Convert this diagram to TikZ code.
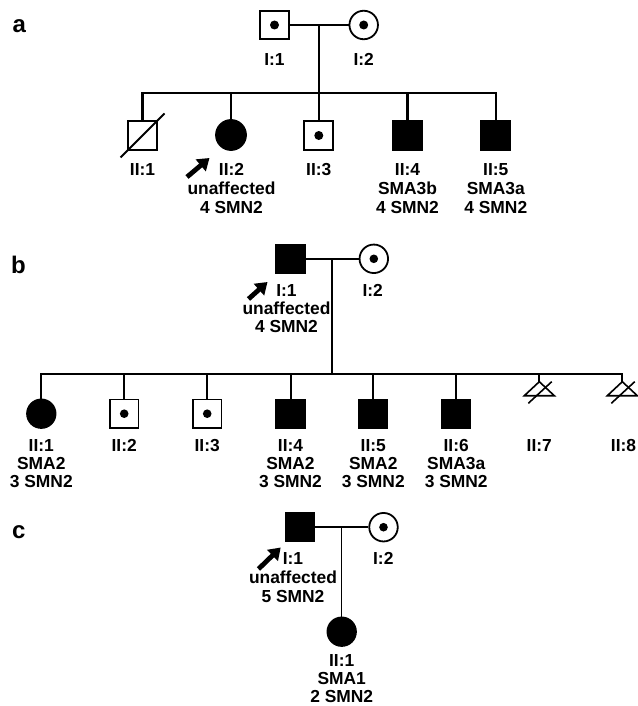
\documentclass[tikz,border=0pt]{standalone}
\usepackage{fontspec}
\setmainfont{Liberation Sans}
\usetikzlibrary{arrows.meta,calc}
\tikzset{
  sq/.style={draw, line width=1.8pt, rectangle, minimum size=28.5pt, inner sep=0pt, fill=white},
  sqf/.style={sq, fill=black},
  ci/.style={draw, line width=1.8pt, circle, minimum size=28.5pt, inner sep=0pt, fill=white},
  cif/.style={ci, fill=black},
  lbl/.style={anchor=north, inner sep=0pt, align=center, font=\bfseries\fontsize{17.4}{#1}\selectfont},
  lbl/.default=18.5,
  plet/.style={anchor=base west, inner sep=0pt, font=\bfseries\fontsize{24}{24}\selectfont},
  conn/.style={line width=#1},
  proband/.style={line width=4.8pt, -{Triangle[length=11.5pt,width=15pt]}},
}
\begin{document}
\begin{tikzpicture}[x=1pt,y=-1pt]
\useasboundingbox (0,0) rectangle (637,706);

% ---------------- panel a ----------------
\node[plet] (pa) at (12.5,33) {a};
\node[sq] (a11) at (274.5,25) {};
\fill (a11.center) circle (4.5);
\node[ci] (a12) at (363.7,25) {};
\fill (a12.center) circle (4.5);
\coordinate (aM) at (319,25);
\coordinate (aJ) at (319,92.7);
\node[sq, minimum size=29pt] (a21) at (142.5,135.5) {};
\node[cif, minimum size=30pt] (a22) at (231,135) {};
\node[sq, minimum size=29pt] (a23) at (318.8,135.5) {};
\fill (a23.center) circle (4.5);
\node[sqf, minimum size=29pt] (a24) at (407.5,135.5) {};
\node[sqf, minimum size=29pt] (a25) at (495.8,135.5) {};
\draw[line width=1.8pt] ($(a21.center)+(-22,22)$) -- ($(a21.center)+(22,-22)$);
\draw[conn=2.2pt] (a11) -- (a12);
\draw[conn=2.8pt] (aM) -- (aJ);
\draw[conn=2.2pt] (a21.north) -- (a21.north |- aJ) -- (a25.north |- aJ) -- (a25.north);
\foreach \n in {a22,a23,a24} \draw[conn=2.2pt] (\n.north) -- (\n.north |- aJ);
\node[lbl] (la11) at (274.5,53) {I:1};
\node[lbl] (la12) at (363.7,53) {I:2};
\node[lbl=19] (la21) at (142.5,163.3) {II:1};
\node[lbl=19] (la22) at (231.5,163.3) {II:2\\unaffected\\4 SMN2};
\node[lbl=19] (la23) at (318.8,163.3) {II:3};
\node[lbl=19] (la24) at (407.5,163.3) {II:4\\SMA3b\\4 SMN2};
\node[lbl=19] (la25) at (495.8,163.3) {II:5\\SMA3a\\4 SMN2};
\coordinate (aAt) at (187,177);
\coordinate (aAh) at (209.5,158);
\draw[proband] (aAt) -- (aAh);

% ---------------- panel b ----------------
\node[plet] (pb) at (11,273.3) {b};
\node[sqf] (b11) at (290.5,258.8) {};
\node[ci] (b12) at (373.8,258.8) {};
\fill (b12.center) circle (4.3);
\coordinate (bM) at (332,258.8);
\coordinate (bJ) at (332,373.5);
\node[cif] (b21) at (41.3,413.7) {};
\node[sq] (b22) at (124.2,413.7) {};
\fill (b22.center) circle (4.3);
\node[sq] (b23) at (207.2,413.7) {};
\fill (b23.center) circle (4.3);
\node[sqf] (b24) at (290.5,413.7) {};
\node[sqf] (b25) at (373.3,413.7) {};
\node[sqf] (b26) at (456.2,413.7) {};
\coordinate (b27) at (539.3,381.7);
\coordinate (b28) at (622.3,381.7);
\foreach \t in {b27,b28} {
  \draw[line width=1.6pt, line join=miter] (\t) -- ++(-15,14) -- ++(30,0) -- cycle;
  \draw[line width=1.6pt] ($(\t)+(-11,21.6)$) -- ($(\t)+(12.4,0)$);
}
\draw[conn=2pt] (b11) -- (b12);
\draw[conn=2pt] (bM) -- (bJ);
\draw[conn=2pt] (b21.north) -- (b21.north |- bJ) -- (b28 |- bJ) -- (b28);
\foreach \n in {b22,b23,b24,b25,b26} \draw[conn=2pt] (\n.north) -- (\n.north |- bJ);
\draw[conn=2pt] (b27) -- (b27 |- bJ);
\node[lbl=18] (lb11) at (286.5,284) {I:1\\unaffected\\4 SMN2};
\node[lbl=18] (lb12) at (372.7,284) {I:2};
\node[lbl=18.3] (lb21) at (41.3,439) {II:1\\SMA2\\3 SMN2};
\node[lbl=18.3] (lb22) at (124.2,439) {II:2};
\node[lbl=18.3] (lb23) at (207.2,439) {II:3};
\node[lbl=18.3] (lb24) at (290.5,439) {II:4\\SMA2\\3 SMN2};
\node[lbl=18.3] (lb25) at (373.3,439) {II:5\\SMA2\\3 SMN2};
\node[lbl=18.3] (lb26) at (456.2,439) {II:6\\SMA3a\\3 SMN2};
\node[lbl=18.3] (lb27) at (539.3,439) {II:7};
\node[lbl=18.3] (lb28) at (623.5,439) {II:8};
\coordinate (bAt) at (248.5,299);
\coordinate (bAh) at (267.5,282);
\draw[proband] (bAt) -- (bAh);

% ---------------- panel c ----------------
\node[plet] (pc) at (12,538) {c};
\node[sqf] (c11) at (299.7,527.2) {};
\node[ci] (c12) at (383.5,527.2) {};
\fill (c12.center) circle (4.3);
\coordinate (cM) at (341.7,527.2);
\node[cif] (c21) at (341.7,631.7) {};
\draw[conn=1.5pt] (c11) -- (c12);
\draw[conn=1.5pt] (cM) -- (c21);
\node[lbl=18.8] (lc11) at (293,552.3) {I:1\\unaffected\\5 SMN2};
\node[lbl=18.8] (lc12) at (383.3,552.3) {I:2};
\node[lbl=18] (lc21) at (341.7,654.3) {II:1\\SMA1\\2 SMN2};
\coordinate (cAt) at (258.5,569);
\coordinate (cAh) at (280.7,547.5);
\draw[proband] (cAt) -- (cAh);
\end{tikzpicture}
\end{document}
